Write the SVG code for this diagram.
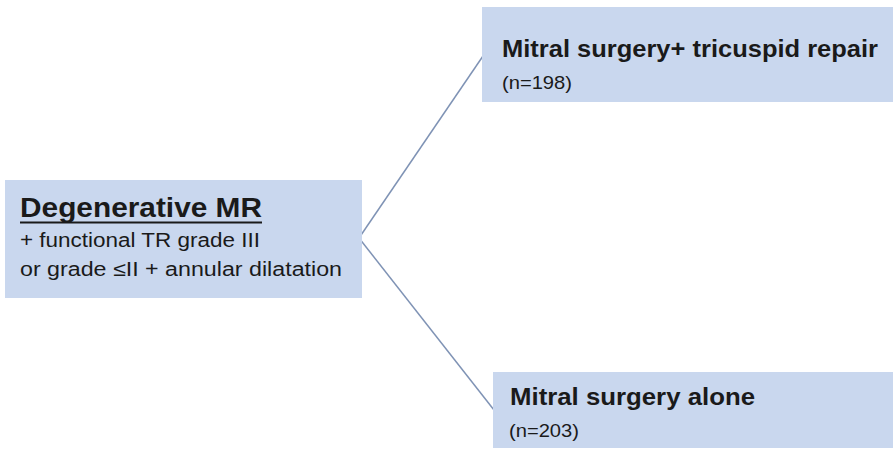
<svg xmlns="http://www.w3.org/2000/svg" width="893" height="451" viewBox="0 0 893 451">
<style>
.box{fill:#c9d7ee}
.t{font-family:"Liberation Sans",Arial,sans-serif;fill:#1a1a1a}
.b{font-weight:bold}
.conn{stroke:#7f93b5;stroke-width:1.5;fill:none}
</style>
<rect width="893" height="451" fill="#ffffff"/>
<g id="connectors">
<line class="conn" x1="359" y1="238" x2="483" y2="56"/>
<line class="conn" x1="359" y1="238" x2="494" y2="410"/>
</g>
<g id="node-degenerative">
<rect class="box" x="5" y="180" width="357" height="118"/>
<text class="t b" x="20" y="217" font-size="27" textLength="242" lengthAdjust="spacingAndGlyphs">Degenerative MR</text>
<line x1="20" y1="222.5" x2="262" y2="222.5" stroke="#1a1a1a" stroke-width="2"/>
<text class="t" x="20" y="247" font-size="20" textLength="240" lengthAdjust="spacingAndGlyphs">+ functional TR grade III</text>
<text class="t" x="20" y="276" font-size="20" textLength="322" lengthAdjust="spacingAndGlyphs">or grade ≤II + annular dilatation</text>
</g>
<g id="node-repair">
<rect class="box" x="482" y="7" width="411" height="95"/>
<text class="t b" x="502" y="57" font-size="24" textLength="376" lengthAdjust="spacingAndGlyphs">Mitral  surgery+ tricuspid repair</text>
<text class="t" x="502" y="89" font-size="19" textLength="70" lengthAdjust="spacingAndGlyphs">(n=198)</text>
</g>
<g id="node-alone">
<rect class="box" x="493" y="372" width="400" height="76"/>
<text class="t b" x="510" y="405" font-size="24" textLength="245" lengthAdjust="spacingAndGlyphs">Mitral  surgery alone</text>
<text class="t" x="509" y="437" font-size="19" textLength="70" lengthAdjust="spacingAndGlyphs">(n=203)</text>
</g>
</svg>
